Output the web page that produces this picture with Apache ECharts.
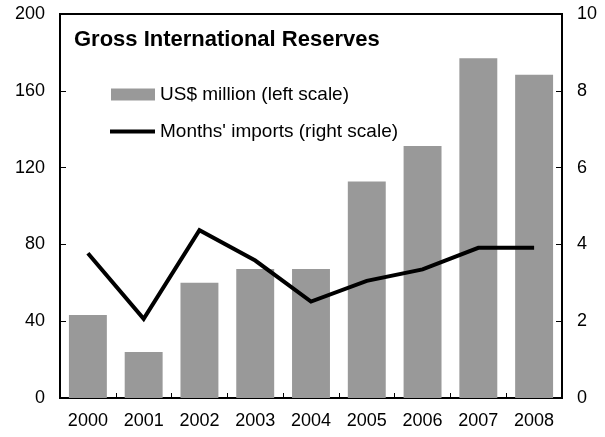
<!DOCTYPE html>
<html>
<head>
<meta charset="utf-8">
<script src="https://cdn.jsdelivr.net/npm/echarts@6/dist/echarts.min.js"></script>
<style>
  html, body { margin: 0; padding: 0; background: #fff; }
  #chart { width: 605px; height: 437px; }
</style>
</head>
<body>
<div id="chart"></div>
<script>
// Gross international reserves, 2000-2008
const years = ['2000', '2001', '2002', '2003', '2004', '2005', '2006', '2007', '2008'];
const reservesUsd = [43.2, 24, 60, 67.2, 67.2, 112.7, 131.2, 177, 168.4];   // US$ million
const monthsImports = [3.77, 2.06, 4.37, 3.58, 2.51, 3.05, 3.35, 3.91, 3.91]; // months of imports

const leftTicks = { min: 0, max: 200, interval: 40 };
const rightTicks = { min: 0, max: 10, interval: 2 };

const barName = 'US$ million (left scale)';
const lineName = "Months' imports (right scale)";

const font = '"Liberation Sans", Arial, sans-serif';

const chart = echarts.init(document.getElementById('chart'), null, { renderer: 'canvas' });

chart.setOption({
  animation: false,
  backgroundColor: '#ffffff',
  textStyle: { fontFamily: font, color: '#000' },
  title: {
    text: 'Gross International Reserves',
    left: 74,
    top: 29,
    padding: 0,
    textStyle: { fontFamily: font, fontSize: 22, fontWeight: 'bold', color: '#000' }
  },
  legend: [
    {
      data: [barName],
      left: 111,
      top: 85,
      padding: 0,
      icon: 'rect',
      itemWidth: 44,
      itemHeight: 12,
      textStyle: { fontFamily: font, fontSize: 19, color: '#000' }
    },
    {
      data: [lineName],
      left: 110,
      top: 122,
      padding: 0,
      icon: 'rect',
      itemWidth: 45,
      itemHeight: 4,
      textStyle: { fontFamily: font, fontSize: 19, color: '#000' }
    }
  ],
  grid: {
    left: 60, right: 43, top: 14, bottom: 39,
    show: true, borderColor: '#000', borderWidth: 2,
    containLabel: false
  },
  xAxis: {
    type: 'category',
    data: years,
    axisLine: { show: true, lineStyle: { color: '#000', width: 2 } },
    axisTick: { show: true, inside: true, length: 5, lineStyle: { color: '#000', width: 1 } },
    axisLabel: { color: '#000', fontSize: 18, fontFamily: font, margin: 14 },
    splitLine: { show: false }
  },
  yAxis: [
    {
      type: 'value',
      min: leftTicks.min, max: leftTicks.max, interval: leftTicks.interval,
      position: 'left',
      axisLine: { show: true, lineStyle: { color: '#000', width: 2 } },
      axisTick: { show: true, inside: true, length: 6, lineStyle: { color: '#000', width: 1 } },
      axisLabel: { color: '#000', fontSize: 18, fontFamily: font, margin: 15 },
      splitLine: { show: false }
    },
    {
      type: 'value',
      min: rightTicks.min, max: rightTicks.max, interval: rightTicks.interval,
      position: 'right',
      axisLine: { show: true, lineStyle: { color: '#000', width: 2 } },
      axisTick: { show: true, inside: true, length: 6, lineStyle: { color: '#000', width: 1 } },
      axisLabel: { color: '#000', fontSize: 18, fontFamily: font, margin: 15 },
      splitLine: { show: false }
    }
  ],
  series: [
    {
      name: barName,
      type: 'bar',
      yAxisIndex: 0,
      data: reservesUsd,
      barWidth: '68%',
      itemStyle: { color: '#999999' }
    },
    {
      name: lineName,
      type: 'line',
      yAxisIndex: 1,
      data: monthsImports,
      symbol: 'none',
      itemStyle: { color: '#000' },
      lineStyle: { color: '#000', width: 4, join: 'miter' }
    }
  ]
});
</script>
</body>
</html>
